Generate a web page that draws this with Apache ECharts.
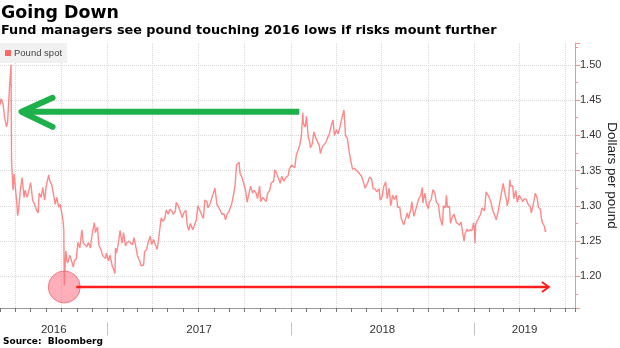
<!DOCTYPE html>
<html><head><meta charset="utf-8">
<script src="https://cdn.jsdelivr.net/npm/echarts@6/dist/echarts.min.js"></script>
<style>html,body{margin:0;padding:0;background:#fff}#c{width:620px;height:348px}</style>
</head><body><div id="c"></div>
<script>
const seriesName = 'Pound spot';
const spot2016 = [
['2016-06-01',1.443],['2016-06-03',1.452],['2016-06-07',1.445],['2016-06-10',1.426],['2016-06-14',1.412],['2016-06-16',1.418],['2016-06-20',1.468],['2016-06-22',1.466],['2016-06-23',1.500],['2016-06-24',1.362],['2016-06-27',1.322],['2016-06-29',1.345],
['2016-07-01',1.330],['2016-07-05',1.300],['2016-07-06',1.286],['2016-07-08',1.295],['2016-07-12',1.325],['2016-07-15',1.340],['2016-07-19',1.312],['2016-07-21',1.322],['2016-07-25',1.312],['2016-07-28',1.320],
['2016-08-01',1.333],['2016-08-03',1.335],['2016-08-05',1.308],['2016-08-09',1.302],['2016-08-12',1.295],['2016-08-16',1.290],['2016-08-18',1.318],['2016-08-22',1.312],['2016-08-25',1.326],['2016-08-29',1.308],
['2016-09-01',1.328],['2016-09-06',1.344],['2016-09-08',1.336],['2016-09-12',1.330],['2016-09-15',1.318],['2016-09-19',1.302],['2016-09-22',1.312],['2016-09-26',1.298],['2016-09-29',1.302],
['2016-10-03',1.285],['2016-10-05',1.275],['2016-10-06',1.266],['2016-10-07',1.187],['2016-10-10',1.236],['2016-10-12',1.222],['2016-10-14',1.219],['2016-10-18',1.230],['2016-10-21',1.223],['2016-10-25',1.213],['2016-10-27',1.222],['2016-10-31',1.225],
['2016-11-03',1.248],['2016-11-07',1.240],['2016-11-10',1.260],['2016-11-11',1.266],['2016-11-14',1.247],['2016-11-17',1.246],['2016-11-21',1.242],['2016-11-24',1.248],['2016-11-28',1.240],['2016-11-30',1.252],
['2016-12-02',1.262],['2016-12-06',1.276],['2016-12-08',1.262],['2016-12-12',1.270],['2016-12-15',1.244],['2016-12-19',1.238],['2016-12-22',1.230],['2016-12-28',1.225],['2016-12-30',1.233]
];
const spot2017 = [
['2017-01-03',1.222],['2017-01-06',1.230],['2017-01-10',1.216],['2017-01-13',1.218],['2017-01-16',1.204],['2017-01-17',1.240],['2017-01-19',1.233],['2017-01-23',1.248],['2017-01-26',1.265],['2017-01-30',1.247],
['2017-02-02',1.262],['2017-02-06',1.243],['2017-02-09',1.248],['2017-02-13',1.250],['2017-02-16',1.247],['2017-02-20',1.245],['2017-02-23',1.255],['2017-02-27',1.240],
['2017-03-02',1.228],['2017-03-06',1.222],['2017-03-09',1.215],['2017-03-14',1.216],['2017-03-16',1.235],['2017-03-20',1.238],['2017-03-23',1.248],['2017-03-27',1.257],['2017-03-30',1.245],
['2017-04-03',1.252],['2017-04-06',1.245],['2017-04-10',1.238],['2017-04-13',1.254],['2017-04-18',1.283],['2017-04-21',1.278],['2017-04-25',1.282],['2017-04-28',1.294],
['2017-05-02',1.288],['2017-05-05',1.295],['2017-05-09',1.293],['2017-05-12',1.288],['2017-05-16',1.292],['2017-05-18',1.305],['2017-05-22',1.300],['2017-05-25',1.294],['2017-05-30',1.283],
['2017-06-02',1.290],['2017-06-06',1.294],['2017-06-09',1.272],['2017-06-12',1.265],['2017-06-15',1.275],['2017-06-20',1.266],['2017-06-23',1.272],['2017-06-27',1.280],['2017-06-30',1.300],
['2017-07-05',1.292],['2017-07-07',1.288],['2017-07-11',1.282],['2017-07-14',1.308],['2017-07-18',1.306],['2017-07-20',1.297],['2017-07-25',1.304],['2017-07-28',1.312],['2017-07-31',1.318],
['2017-08-03',1.325],['2017-08-07',1.302],['2017-08-10',1.298],['2017-08-14',1.293],['2017-08-17',1.288],['2017-08-21',1.289],['2017-08-24',1.280],['2017-08-28',1.289],['2017-08-31',1.292],
['2017-09-05',1.302],['2017-09-07',1.308],['2017-09-12',1.328],['2017-09-15',1.358],['2017-09-20',1.362],['2017-09-22',1.346],['2017-09-26',1.340],['2017-09-29',1.340],
['2017-10-03',1.322],['2017-10-06',1.305],['2017-10-10',1.318],['2017-10-13',1.328],['2017-10-17',1.318],['2017-10-20',1.322],['2017-10-24',1.318],['2017-10-27',1.310],['2017-10-31',1.328],
['2017-11-02',1.306],['2017-11-06',1.312],['2017-11-09',1.313],['2017-11-13',1.306],['2017-11-16',1.318],['2017-11-20',1.322],['2017-11-23',1.332],['2017-11-28',1.335],['2017-11-30',1.351],
['2017-12-04',1.346],['2017-12-07',1.340],['2017-12-11',1.332],['2017-12-14',1.342],['2017-12-18',1.335],['2017-12-21',1.339],['2017-12-27',1.343],['2017-12-29',1.352]
];
const spot2018 = [
['2018-01-03',1.358],['2018-01-05',1.356],['2018-01-09',1.354],['2018-01-12',1.372],['2018-01-16',1.380],['2018-01-19',1.386],['2018-01-22',1.398],['2018-01-25',1.432],['2018-01-26',1.417],['2018-01-30',1.412],
['2018-02-01',1.427],['2018-02-05',1.397],['2018-02-08',1.390],['2018-02-09',1.382],['2018-02-13',1.388],['2018-02-16',1.405],['2018-02-20',1.396],['2018-02-23',1.394],['2018-02-27',1.385],
['2018-03-01',1.374],['2018-03-05',1.384],['2018-03-08',1.384],['2018-03-12',1.390],['2018-03-15',1.396],['2018-03-19',1.402],['2018-03-22',1.412],['2018-03-26',1.422],['2018-03-29',1.400],
['2018-04-02',1.408],['2018-04-05',1.402],['2018-04-09',1.412],['2018-04-13',1.425],['2018-04-17',1.436],['2018-04-20',1.400],['2018-04-24',1.395],['2018-04-27',1.378],
['2018-05-01',1.362],['2018-05-04',1.352],['2018-05-08',1.353],['2018-05-11',1.354],['2018-05-15',1.348],['2018-05-18',1.346],['2018-05-22',1.342],['2018-05-25',1.335],['2018-05-29',1.325],['2018-05-31',1.328],
['2018-06-04',1.334],['2018-06-07',1.341],['2018-06-11',1.338],['2018-06-14',1.324],['2018-06-18',1.324],['2018-06-21',1.320],['2018-06-26',1.324],['2018-06-28',1.308],
['2018-07-02',1.313],['2018-07-05',1.327],['2018-07-09',1.334],['2018-07-12',1.310],['2018-07-16',1.325],['2018-07-19',1.300],['2018-07-23',1.315],['2018-07-26',1.309],['2018-07-30',1.315],
['2018-08-02',1.298],['2018-08-06',1.298],['2018-08-09',1.282],['2018-08-14',1.273],['2018-08-16',1.271],['2018-08-21',1.290],['2018-08-23',1.282],['2018-08-28',1.294],['2018-08-30',1.306],
['2018-09-03',1.285],['2018-09-06',1.292],['2018-09-10',1.303],['2018-09-13',1.310],['2018-09-17',1.315],['2018-09-20',1.326],['2018-09-21',1.304],['2018-09-25',1.318],['2018-09-28',1.303],
['2018-10-02',1.296],['2018-10-04',1.305],['2018-10-08',1.310],['2018-10-11',1.323],['2018-10-15',1.318],['2018-10-18',1.305],['2018-10-22',1.302],['2018-10-25',1.284],['2018-10-30',1.272],
['2018-11-01',1.300],['2018-11-05',1.297],['2018-11-07',1.315],['2018-11-09',1.298],['2018-11-13',1.299],['2018-11-15',1.275],['2018-11-19',1.285],['2018-11-22',1.288],['2018-11-27',1.276],['2018-11-30',1.275],
['2018-12-03',1.273],['2018-12-06',1.277],['2018-12-10',1.259],['2018-12-12',1.250],['2018-12-14',1.260],['2018-12-18',1.267],['2018-12-20',1.264],['2018-12-24',1.266],['2018-12-28',1.265],['2018-12-31',1.276]
];
const spot2019 = [
['2019-01-02',1.262],['2019-01-03',1.247],['2019-01-04',1.273],['2019-01-07',1.278],['2019-01-10',1.276],['2019-01-14',1.288],['2019-01-17',1.297],['2019-01-22',1.293],['2019-01-25',1.320],['2019-01-28',1.316],['2019-01-31',1.312],
['2019-02-04',1.304],['2019-02-07',1.294],['2019-02-11',1.287],['2019-02-14',1.280],['2019-02-18',1.292],['2019-02-21',1.304],['2019-02-26',1.324],['2019-02-28',1.332],
['2019-03-04',1.316],['2019-03-07',1.307],['2019-03-08',1.300],['2019-03-11',1.310],['2019-03-13',1.337],['2019-03-15',1.328],['2019-03-19',1.328],['2019-03-21',1.310],['2019-03-25',1.322],['2019-03-28',1.305],
['2019-04-01',1.315],['2019-04-03',1.317],['2019-04-08',1.306],['2019-04-11',1.310],['2019-04-15',1.309],['2019-04-18',1.303],['2019-04-23',1.298],['2019-04-25',1.290],['2019-04-30',1.306],
['2019-05-03',1.318],['2019-05-07',1.310],['2019-05-09',1.298],['2019-05-13',1.295],['2019-05-15',1.283],['2019-05-17',1.276],['2019-05-21',1.271],['2019-05-23',1.263],['2019-05-24',1.266]
];
const yearLabels = ['2016','2017','2018','2019'];
const yearStarts = ['2017-01-01','2018-01-01','2019-01-01'];
const axisStart = '2016-06-01';
const axisEnd = '2019-07-21';
const yMin = 1.155, yMax = 1.531;
const yAxisTitle = 'Dollars per pound';
// annotation anchors (data coordinates)
const greenArrowFrom = ['2018-01-18', 1.4333];
const greenArrowTip = ['2016-07-09', 1.4333];
const flashCrash = ['2016-10-07', 1.1848];
const redArrowTip = ['2019-05-30', 1.1848];

const spot = spot2016.concat(spot2017, spot2018, spot2019);
const DAY = 86400000;
const chart = echarts.init(document.getElementById('c'), null, {renderer: 'canvas'});
const lblFont = 'Liberation Sans, Arial, sans-serif';
const option = {
  animation: false,
  backgroundColor: '#fff',
  grid: {left: 0, right: 45, top: 43, bottom: 40, containLabel: false, outerBoundsMode: 'none'},
  legend: {
    data: [seriesName], left: 0, top: 43, icon: 'rect', itemWidth: 6, itemHeight: 6,
    backgroundColor: '#f1f1f1', padding: [5, 5, 5, 5], itemGap: 4,
    textStyle: {fontSize: 9.5, color: '#444', fontFamily: lblFont, padding: [0, 0, 0, -2]}
  },
  xAxis: [
    {type: 'time', min: axisStart, max: axisEnd, position: 'bottom',
     minInterval: 28 * DAY, maxInterval: 31 * DAY,
     axisLine: {show: true, lineStyle: {color: '#9a9a9a', width: 1}},
     axisTick: {show: true, length: 4, interval: 0, lineStyle: {color: '#777', width: 1}},
     axisLabel: {show: false},
     splitLine: {show: false}},
    {type: 'time', min: axisStart, max: axisEnd, position: 'bottom',
     minInterval: 91 * DAY, maxInterval: 91 * DAY,
     axisLine: {show: false}, axisLabel: {show: false}, axisTick: {show: false},
     splitLine: {show: true, showMinLine: false, showMaxLine: false, lineStyle: {color: '#d9d9d9', type: 'dotted', width: 1}}}
  ],
  yAxis: [{
    type: 'value', position: 'right', min: yMin, max: yMax, splitNumber: 7,
    axisLine: {show: true, lineStyle: {color: '#f59393', width: 1}},
    axisTick: {show: true, length: 5, lineStyle: {color: '#f59393'}},
    minorTick: {show: true, splitNumber: 2, length: 3, lineStyle: {color: '#f59393'}},
    axisLabel: {margin: 5, color: '#333', fontSize: 11, fontFamily: lblFont, showMinLabel: false, showMaxLabel: false,
      formatter: v => v.toFixed(2)},
    splitLine: {show: true, showMinLine: false, showMaxLine: false, lineStyle: {color: '#d9d9d9', type: 'dotted', width: 1}}
  }],
  series: [{
    name: seriesName, type: 'line', data: spot, showSymbol: false, symbol: 'none',
    color: '#ff6666',
    lineStyle: {color: '#ff6262', width: 1.4, opacity: 0.75}
  }]
};
chart.setOption(option);

const px = (d, v) => chart.convertToPixel({seriesIndex: 0}, [d, v]);
const g = [];
// titles
g.push({type: 'text', x: 1, y: 13, style: {text: 'Going Down', fill: '#000', font: 'bold 17.4px "DejaVu Sans"', verticalAlign: 'middle'}});
g.push({type: 'text', x: 1, y: 30.5, style: {text: 'Fund managers see pound touching 2016 lows if risks mount further', fill: '#000', font: 'bold 12.8px "DejaVu Sans"', verticalAlign: 'middle'}});
g.push({type: 'text', x: 3, y: 342, style: {text: 'Source:  Bloomberg', fill: '#000', font: 'bold 9px "DejaVu Sans"', verticalAlign: 'middle'}});
// y axis title
const yMid = (px(axisStart, yMin)[1] + px(axisStart, yMax)[1]) / 2;
g.push({type: 'text', x: 611.5, y: yMid, rotation: -Math.PI / 2, style: {text: yAxisTitle, fill: '#222', font: '13.5px "Liberation Sans"', align: 'center', verticalAlign: 'middle'}});
// year separators and labels
const xs = [px(axisStart, yMin)[0]].concat(yearStarts.map(d => px(d, yMin)[0]), [px(axisEnd, yMin)[0]]);
yearStarts.forEach((d, i) => {
  const x = Math.round(px(d, yMin)[0]) + 0.5;
  g.push({type: 'line', shape: {x1: x, y1: 322.5, x2: x, y2: 335.5}, style: {stroke: '#c4c4c4', lineWidth: 1}});
});
yearLabels.forEach((t, i) => {
  g.push({type: 'text', x: (xs[i] + xs[i + 1]) / 2, y: 329.5, style: {text: t, fill: '#333', font: '11.5px "Liberation Sans"', align: 'center', verticalAlign: 'middle'}});
});
// green arrow
const gA = px(greenArrowFrom[0], greenArrowFrom[1]);
const gT = px(greenArrowTip[0], greenArrowTip[1]);
const tipX = gT[0] + 2.5;
g.push({type: 'polyline', z: 10, shape: {points: [[gA[0], gA[1]], [tipX + 2, gT[1]]]}, style: {stroke: '#1eb04b', lineWidth: 6, lineCap: 'butt', fill: 'none'}});
g.push({type: 'polyline', z: 10, shape: {points: [[tipX + 31, gT[1] - 14], [tipX, gT[1]], [tipX + 31, gT[1] + 15]]}, style: {stroke: '#1eb04b', lineWidth: 6, lineCap: 'round', lineJoin: 'round', fill: 'none'}});
// red circle and arrow
const c = px(flashCrash[0], flashCrash[1]);
const rT = px(redArrowTip[0], redArrowTip[1]);
g.push({type: 'circle', z: 10, shape: {cx: c[0], cy: c[1], r: 16}, style: {fill: 'rgba(255,110,130,0.55)', stroke: 'rgba(240,90,105,0.7)', lineWidth: 1}});
g.push({type: 'polyline', z: 11, shape: {points: [[c[0] + 12, c[1]], [rT[0] - 1, rT[1]]]}, style: {stroke: '#ff1e1e', lineWidth: 2.5, fill: 'none'}});
g.push({type: 'polyline', z: 11, shape: {points: [[rT[0] - 7, rT[1] - 5], [rT[0], rT[1]], [rT[0] - 7, rT[1] + 5]]}, style: {stroke: '#ff1e1e', lineWidth: 2, fill: 'none', lineJoin: 'miter'}});
chart.setOption({graphic: g});
</script></body></html>
